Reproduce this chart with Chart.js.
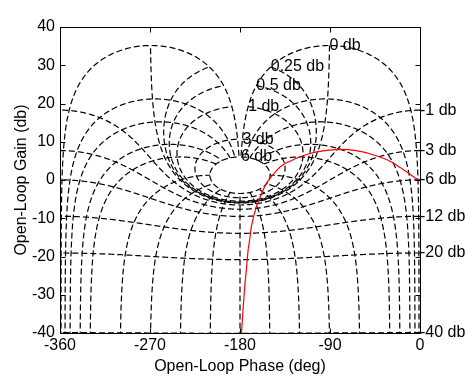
<!DOCTYPE html>
<html><head><meta charset="utf-8">
<script src="https://cdn.jsdelivr.net/npm/chart.js@4/dist/chart.umd.min.js"></script>
<style>html,body{margin:0;padding:0;background:#fff;}canvas{display:block;}</style>
</head><body>
<canvas id="c" width="466" height="376"></canvas>
<script>
// ---- Data ----
const phaseTicks = [-360, -270, -180, -90, 0];
const gainTicks = [-40, -30, -20, -10, 0, 10, 20, 30, 40];
// Open-loop frequency response (red curve)
const openLoopPhase = [-178.5, -177, -175.3, -173.5, -172, -170, -168.7, -166, -163.7, -160, -157, -153, -148.7, -144, -140, -135, -130, -122, -114, -106, -97, -88, -80, -72, -64, -56, -47, -40, -33, -27, -20, -15, -10, -5, 0];
const openLoopGain  = [-40, -34, -28, -23, -18.5, -15, -12.2, -9.2, -7, -4.6, -2.6, -0.6, 0.9, 2.3, 3.4, 4.3, 4.9, 5.9, 6.6, 7.2, 7.6, 7.9, 8.0, 7.95, 7.7, 7.3, 6.6, 6.0, 5.3, 4.5, 3.3, 2.4, 1.5, 0.6, -0.2];
// Nichols grid levels (closed-loop gain in dB, closed-loop phase in deg)
const gridGainLevels = [6, 3, 1, 0.5, 0.25, 0, -1, -3, -6, -12, -20, -40];
const gridPhaseLevels = [-1, -5, -10, -20, -30, -60, -90, -120, -150, -180];

const FONT = '"Liberation Sans", Arial, Helvetica, sans-serif';
const FS = 16;

// closed-loop (M, theta) -> open-loop [phase deg, gain dB], L = T/(1-T)
function openLoopOf(Mabs, thetaDeg) {
  const th = thetaDeg * Math.PI / 180;
  const tr = Mabs * Math.cos(th), ti = Mabs * Math.sin(th);
  const dr = 1 - tr, di = -ti;
  const ph = thetaDeg - Math.atan2(di, dr) * 180 / Math.PI;
  const mag = Mabs / Math.hypot(dr, di);
  return [ph, 20 * Math.log10(mag)];
}

const nicholsGrid = {
  id: 'nicholsGrid',
  beforeDatasetsDraw(chart) {
    const {ctx, chartArea: a, scales: {x, y}} = chart;
    const px = v => x.getPixelForValue(v), py = v => y.getPixelForValue(v);
    ctx.save();
    ctx.beginPath(); ctx.rect(a.left, a.top, a.right - a.left, a.bottom - a.top); ctx.clip();
    ctx.strokeStyle = '#000'; ctx.lineWidth = 1.2; ctx.setLineDash([6, 3]);
    const drawPts = pts => {
      ctx.beginPath();
      pts.forEach((p, i) => { const X = px(p[0]), Y = py(Math.max(-80, Math.min(80, p[1]))); if (i) ctx.lineTo(X, Y); else ctx.moveTo(X, Y); });
      ctx.stroke();
    };
    // constant closed-loop gain contours
    gridGainLevels.forEach(g => {
      const M = Math.pow(10, g / 20);
      const t0 = M < 1 ? 0 : -1, t1 = M < 1 ? -360 : -359;
      const n = Math.round((t0 - t1) * 10);
      const pts = [];
      for (let k = 0; k <= n; k++) pts.push(openLoopOf(M, t0 - (t0 - t1) * k / n));
      drawPts(pts);
    });
    // constant closed-loop phase contours (and mirror)
    const thetas = [];
    gridPhaseLevels.forEach(p => { thetas.push(p); if (p !== -180) thetas.push(-360 - p); });
    const gMax = Math.max(...gridGainLevels), gMin = -60;
    thetas.forEach(t => {
      const n = Math.round((gMax - gMin) * 200);
      const pts = [];
      for (let k = 0; k <= n; k++) pts.push(openLoopOf(Math.pow(10, (gMin + (gMax - gMin) * k / n) / 20), t));
      drawPts(pts);
    });
    ctx.restore();
    // labels
    ctx.save();
    ctx.fillStyle = '#000'; ctx.font = FS + 'px ' + FONT;
    ctx.textAlign = 'left'; ctx.textBaseline = 'middle';
    gridGainLevels.forEach(g => {
      const M = Math.pow(10, g / 20);
      const p = openLoopOf(M, g >= 0 ? -1 : 0);
      ctx.fillText(g + ' db', px(p[0]), py(p[1]));
    });
    ctx.restore();
  },
  afterDraw(chart) {
    const {ctx, chartArea: a, scales: {x, y}} = chart;
    ctx.save();
    ctx.strokeStyle = '#000'; ctx.lineWidth = 1; ctx.setLineDash([]);
    const L = Math.round(a.left) + 0.5, R = Math.round(a.right) + 0.5, T = Math.round(a.top) + 0.5, B = Math.round(a.bottom) + 0.5;
    ctx.strokeRect(L, T, R - L, B - T);
    ctx.beginPath();
    const tl = 5;
    phaseTicks.forEach(v => { const X = Math.round(x.getPixelForValue(v)) + 0.5; ctx.moveTo(X, B); ctx.lineTo(X, B - tl); ctx.moveTo(X, T); ctx.lineTo(X, T + tl); });
    gainTicks.forEach(v => { const Y = Math.round(y.getPixelForValue(v)) + 0.5; ctx.moveTo(L, Y); ctx.lineTo(L + tl, Y); ctx.moveTo(R, Y); ctx.lineTo(R - tl, Y); });
    ctx.stroke();
    ctx.restore();
  }
};

new Chart(document.getElementById('c'), {
  type: 'scatter',
  data: {
    datasets: [{
      data: openLoopPhase.map((p, i) => ({x: p, y: openLoopGain[i]})),
      showLine: true, borderColor: 'rgb(255,0,0)', borderWidth: 1.2, pointRadius: 0, tension: 0, fill: false
    }]
  },
  options: {
    responsive: false, animation: false, devicePixelRatio: 1,
    layout: {padding: {left: 0, top: 27, right: 46, bottom: 0}},
    plugins: {legend: {display: false}, tooltip: {enabled: false}},
    scales: {
      x: {
        type: 'linear', min: -360, max: 0,
        afterBuildTicks: s => { s.ticks = phaseTicks.map(v => ({value: v})); },
        afterFit: s => { s.height = 43; s.paddingLeft = 0; s.paddingRight = 0; },
        grid: {display: false, drawTicks: false, tickLength: 0}, border: {display: false},
        ticks: {color: '#000', font: {family: FONT, size: FS}, padding: 3, maxRotation: 0, autoSkip: false},
        title: {display: true, text: 'Open-Loop Phase (deg)', color: '#000', font: {family: FONT, size: FS}, padding: {top: 0, bottom: 0}}
      },
      y: {
        type: 'linear', min: -40, max: 40,
        afterBuildTicks: s => { s.ticks = gainTicks.map(v => ({value: v})); },
        afterFit: s => { s.width = 60; s.paddingTop = 0; s.paddingBottom = 0; },
        grid: {display: false, drawTicks: false, tickLength: 0}, border: {display: false},
        ticks: {color: '#000', font: {family: FONT, size: FS}, padding: 5, autoSkip: false},
        title: {display: true, text: 'Open-Loop Gain (db)', color: '#000', font: {family: FONT, size: FS}, padding: {top: 12, bottom: 0}}
      }
    }
  },
  plugins: [nicholsGrid]
});
</script>
</body></html>
